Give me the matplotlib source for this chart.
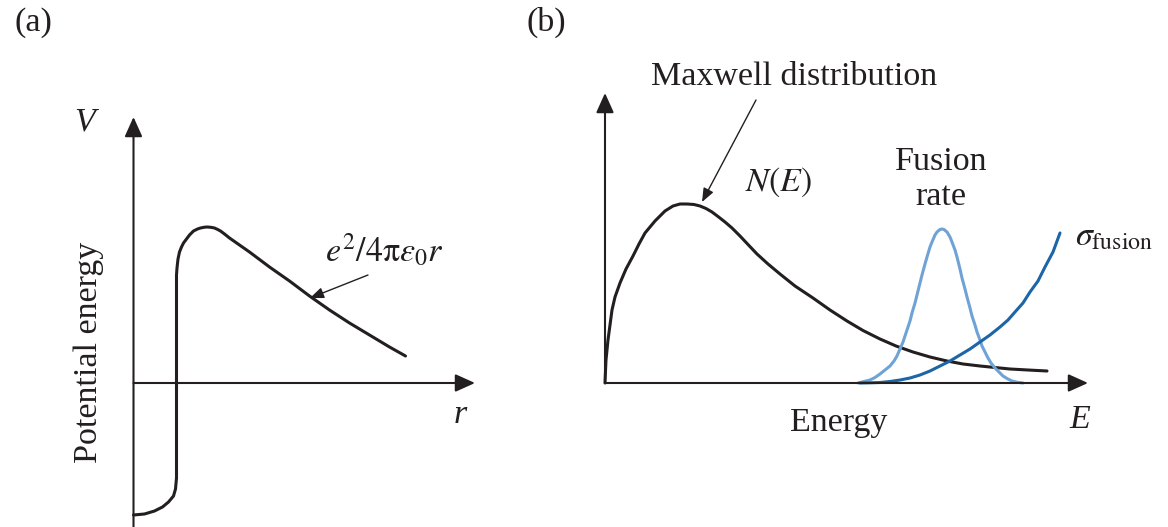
import matplotlib.pyplot as plt

plt.rcParams['font.family'] = ['Liberation Serif', 'DejaVu Serif']
plt.rcParams['mathtext.fontset'] = 'stix'

# (a) potential energy V(r) (origin where the axes cross)
r_pot = [0, 11, 21, 29, 35, 40, 42, 43, 43, 43.5, 44.5, 46, 48, 50, 53, 56,
         60, 64, 67, 71, 74, 78, 81, 84, 87, 91, 96, 106, 116, 126, 136, 146,
         156, 166, 176, 186, 196, 206, 216, 226, 236, 246, 256, 264, 272]
v_pot = [-132, -131, -128, -124, -119, -113, -106, -95, 108, 115, 124, 131,
         136, 140, 144, 148, 152, 154, 155, 155.8, 156, 155.6, 155, 153.6,
         152, 149, 145, 138, 131, 123.5, 116, 109, 102, 94.5, 87, 80, 73,
         66.5, 60, 54, 48, 42, 36, 31.5, 27]

# (b) Maxwell distribution N(E)
e_max = [0, 0.5, 1, 2, 3, 5, 7, 10, 15, 21, 28, 34, 40, 45, 50, 55, 60, 68,
         75, 82, 89, 95, 101, 107, 113, 120, 127, 135, 143, 152, 163, 175,
         190, 208, 225, 242, 258, 275, 291, 308, 325, 342, 358, 375, 390,
         405, 423, 442]
n_max = [0, 12, 23, 33, 43, 58, 73, 86, 100, 114, 127, 139, 150, 156, 162,
         167, 172, 177, 179, 179, 178.5, 177, 174.5, 171, 166.5, 161, 155,
         147, 138.5, 129, 119, 109, 97, 85, 73, 62, 52.5, 44, 37, 31, 26, 22,
         19, 17, 15.5, 14, 13, 12]

# (b) fusion rate peak
e_rate = [253, 259, 265, 270, 275, 280, 285, 289, 292, 295, 298, 300, 302,
          305, 307, 310, 312, 315, 317, 320, 322, 325, 327, 330, 332, 335, 337,
          339, 342, 345, 347, 350, 352, 355, 357, 360, 362, 365, 367, 370,
          372, 375, 377, 380, 383, 386, 390, 394, 398, 402, 407, 412, 418]
n_rate = [0, 1.5, 3, 5.5, 9, 13, 17, 22, 27, 34, 41, 47, 53, 62, 70, 80, 88,
          100, 108, 119, 126, 136, 141, 148, 151, 153.5, 154, 153.5, 151, 146,
          141, 133, 126, 114, 105, 94, 86, 75, 67, 58, 51, 43, 37, 31, 25, 20,
          15, 11, 7, 4.5, 2, 0.8, 0]

# (b) fusion cross section
e_sig = [255, 265, 275, 285, 295, 305, 315, 325, 335, 345, 355, 365, 375,
         385, 395, 403, 410, 418, 425, 433, 440, 448, 455]
n_sig = [0, 0.2, 0.5, 1.5, 3, 5, 8, 12, 17, 22, 28, 34, 41, 48, 56, 63, 71,
         80, 91, 102, 116, 131, 150]

ink = '#231f20'
fs = 24.5

fig = plt.figure(figsize=(11.68, 5.27), dpi=100)
ax_a = fig.add_axes([0, 0, 0.5, 1])
ax_b = fig.add_axes([0.5, 0, 0.5, 1])
ax_a.set_xlim(-133.5, 450.5)
ax_b.set_xlim(-21, 563)
for ax in (ax_a, ax_b):
    ax.set_ylim(-144, 383)
    ax.axis('off')

big = dict(arrowstyle='-|>,head_length=0.6,head_width=0.27', lw=1.5,
           color=ink, mutation_scale=20, shrinkA=0, shrinkB=0)
small = dict(arrowstyle='-|>,head_length=0.55,head_width=0.22', lw=1.0,
             color=ink, mutation_scale=15, shrinkA=0, shrinkB=0)
curve = dict(lw=2.2, solid_joinstyle='round', solid_capstyle='round')

# panel (a)
ax_a.annotate('', xy=(0, 266), xytext=(0, -150), arrowprops=big)
ax_a.annotate('', xy=(341.5, 0), xytext=(0, 0), arrowprops=big)
ax_a.plot(r_pot, v_pot, color=ink, **curve)
ax_a.text(-48.5, 261, 'V', fontsize=fs, style='italic', color=ink,
          ha='center', va='center')
ax_a.text(326.5, -32, 'r', fontsize=fs, style='italic', color=ink,
          ha='center', va='center')
ax_a.text(-44.5, 31, 'Potential energy', fontsize=fs, color=ink,
          rotation=90, ha='center', va='center')
ax_a.text(250.5, 133, r'$e^2/4\mathrm{\pi}\varepsilon_0 r$', fontsize=fs,
          color=ink, ha='center', va='center')
ax_a.annotate('', xy=(176.5, 85), xytext=(234.5, 108), arrowprops=small)
ax_a.text(-100.5, 360, '(a)', fontsize=fs, color=ink, ha='center', va='center')

# panel (b)
ax_b.annotate('', xy=(0, 290), xytext=(0, 0), arrowprops=big)
ax_b.annotate('', xy=(483, 0), xytext=(0, 0), arrowprops=big)
ax_b.plot(e_max, n_max, color=ink, **curve)
ax_b.plot(e_rate, n_rate, color='#6fa3d6', **curve)
ax_b.plot(e_sig, n_sig, color='#1c65a6', **curve)
ax_b.text(189, 306, 'Maxwell distribution', fontsize=fs, color=ink,
          ha='center', va='center')
ax_b.annotate('', xy=(97, 181), xytext=(151, 283), arrowprops=small)
ax_b.text(174, 201, r'$N(E)$', fontsize=fs, color=ink, ha='center', va='center')
ax_b.text(336, 204, 'Fusion\nrate', fontsize=fs, color=ink, ha='center',
          va='center', multialignment='center', linespacing=1.2)
ax_b.text(470, 146, r'$\sigma_{\mathrm{fusion}}$', fontsize=fs, color=ink,
          ha='left', va='center')
ax_b.text(234, -40, 'Energy', fontsize=fs, color=ink, ha='center', va='center')
ax_b.text(475, -37, 'E', fontsize=fs, style='italic', color=ink,
          ha='center', va='center')
ax_b.text(-59, 361, '(b)', fontsize=fs, color=ink, ha='center', va='center')

fig.savefig('out.png', dpi=100)
